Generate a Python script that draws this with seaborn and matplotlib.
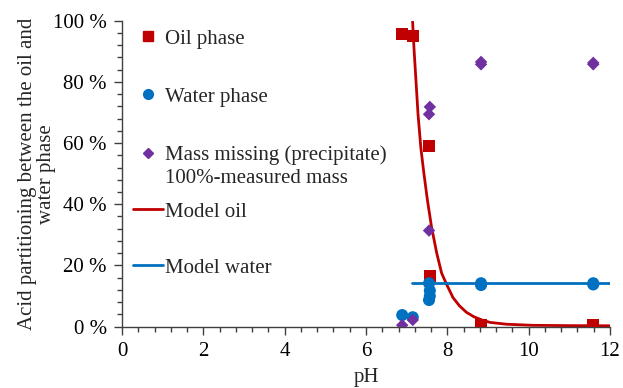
import matplotlib
matplotlib.use("Agg")
import matplotlib.pyplot as plt
import seaborn as sns
from matplotlib.ticker import MultipleLocator, FuncFormatter
from matplotlib.lines import Line2D

# ---- data ----
oil_ph = [6.89, 7.15, 7.55, 7.57, 8.83, 11.59]
oil_val = [95.6, 95.0, 59.1, 16.7, 0.5, 0.5]

water_ph = [6.89, 7.15, 7.55, 7.57, 7.57, 7.55, 8.83, 8.83, 11.59, 11.59]
water_val = [3.8, 3.1, 14.2, 11.8, 10.0, 8.7, 14.2, 13.6, 14.2, 13.8]

miss_ph = [6.89, 7.15, 7.55, 7.57, 7.55, 8.83, 8.83, 11.59, 11.59]
miss_val = [0.5, 2.2, 31.4, 71.8, 69.4, 85.7, 86.5, 85.7, 86.2]

model_oil_ph = [7.146, 7.18, 7.23, 7.28, 7.35, 7.42, 7.51, 7.61, 7.74, 7.86, 7.98, 8.14,
                8.30, 8.47, 8.66, 8.85, 9.05, 9.46, 10.1, 11.0, 12.0]
model_oil_val = [99.7, 91.0, 80.1, 69.3, 58.3, 50.5, 41.4, 32.7, 24.0, 17.5, 13.9, 9.5,
                 6.8, 4.7, 3.2, 2.2, 1.4, 0.8, 0.45, 0.35, 0.3]

model_water_ph = [7.12, 12.0]
model_water_val = [14.2, 14.2]

legend_labels = ["Oil phase", "Water phase", "Mass missing (precipitate)",
                 "100%-measured mass", "Model oil", "Model water"]

RED = "#C00000"
BLUE = "#0070C0"
PURPLE = "#7030A0"

sns.set_style("white")
plt.rcParams["font.family"] = ["Liberation Serif", "DejaVu Serif"]
FS = 15

fig = plt.figure(figsize=(6.23, 3.88), dpi=100)
ax = fig.add_axes([0.196, 0.158, 0.783, 0.789])

sns.lineplot(x=model_oil_ph, y=model_oil_val, ax=ax, color=RED, lw=2, zorder=2, sort=False)
sns.lineplot(x=model_water_ph, y=model_water_val, ax=ax, color=BLUE, lw=2, zorder=2)
sns.scatterplot(x=oil_ph, y=oil_val, ax=ax, marker="s", color=RED, s=75, edgecolor="none", zorder=3)
sns.scatterplot(x=water_ph, y=water_val, ax=ax, marker="o", color=BLUE, s=75, edgecolor="none", zorder=3)
sns.scatterplot(x=miss_ph, y=miss_val, ax=ax, marker="D", color=PURPLE, s=40, edgecolor="none", zorder=3)

ax.set_xlim(0, 12)
ax.set_ylim(0, 100)
ax.xaxis.set_major_locator(MultipleLocator(2))
ax.xaxis.set_minor_locator(MultipleLocator(0.4))
ax.yaxis.set_major_locator(MultipleLocator(20))
ax.yaxis.set_minor_locator(MultipleLocator(4))
ax.yaxis.set_major_formatter(FuncFormatter(lambda v, p: f"{v:.0f} %"))
ax.tick_params(which="major", direction="out", length=6, width=1, colors="#404040",
               labelsize=FS, labelcolor="black", left=True, bottom=True, pad=5)
ax.tick_params(which="minor", direction="out", length=3.5, width=1, colors="#404040",
               left=True, bottom=True)
for s in ["top", "right"]:
    ax.spines[s].set_visible(False)
for s in ["left", "bottom"]:
    ax.spines[s].set_color("#404040")
    ax.spines[s].set_linewidth(1)

ax.set_xlabel("pH", fontsize=FS)
ax.set_ylabel("Acid partitioning between the oil and\nwater phase", fontsize=FS, linespacing=1.0)
ax.yaxis.set_label_coords(-0.136, 0.5)
ax.xaxis.set_label_coords(0.5, -0.135)

handles = [
    Line2D([], [], marker="s", color=RED, ls="none", markersize=7),
    Line2D([], [], marker="o", color=BLUE, ls="none", markersize=7),
    Line2D([], [], marker="D", color=PURPLE, ls="none", markersize=5),
    Line2D([], [], ls="none"),
    Line2D([], [], color=RED, lw=2),
    Line2D([], [], color=BLUE, lw=2),
]
ypos = [0.940, 0.751, 0.561, 0.486, 0.375, 0.192]
for i, (h, lab, y) in enumerate(zip(handles, legend_labels, ypos)):
    leg = ax.legend([h], [lab], loc="center left", bbox_to_anchor=(0.005, y), frameon=False,
                    fontsize=FS, handlelength=1.44, handletextpad=0.1, borderaxespad=0.0)
    if i < len(handles) - 1:
        ax.add_artist(leg)

fig.savefig("out.png", dpi=100)
